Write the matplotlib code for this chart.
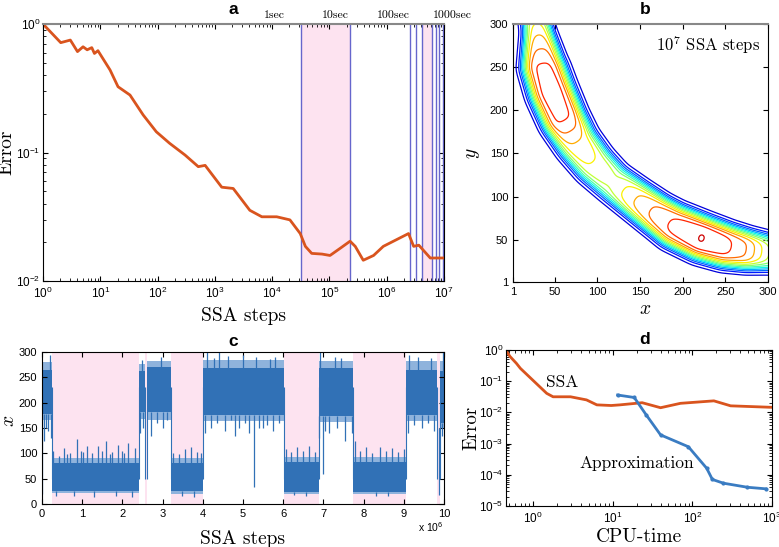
import numpy as np
import matplotlib
matplotlib.use('Agg')
import matplotlib.pyplot as plt
from matplotlib import rcParams
from matplotlib.colors import ListedColormap
from matplotlib.ticker import LogLocator, NullFormatter

rcParams['font.family'] = 'Liberation Sans'
rcParams['mathtext.fontset'] = 'custom'
rcParams['mathtext.rm'] = 'Liberation Sans'
rcParams['mathtext.it'] = 'Liberation Sans:italic'
rcParams['mathtext.bf'] = 'Liberation Sans:bold'
rcParams['xtick.direction'] = 'in'
rcParams['ytick.direction'] = 'in'
rcParams['xtick.top'] = True
rcParams['ytick.right'] = True
rcParams['xtick.labelsize'] = 8
rcParams['ytick.labelsize'] = 8
rcParams['axes.linewidth'] = 0.8

ORANGE = '#d9541e'
BLUE = '#3171b6'
LIGHTBLUE = '#8fb3dc'
PINK = '#fde3f0'
LINEBLUE = '#6666cc'
SERIF = 'cmr10'

# ---------------------------------------------------------------- data
# panel a : error vs SSA steps
a_steps = [1, 2.04, 3.0, 4.0, 5.0, 5.9, 7.1, 7.9, 9.1, 14.8, 20.4, 33, 56, 95,
           162, 302, 513, 676, 1318, 2089, 4074, 6607, 12020, 20420, 30900,
           38000, 49000, 74130, 1.023e5, 1.549e5, 2.29e5, 2.818e5, 3.89e5,
           5.89e5, 8.71e5, 2.4e6, 2.95e6, 3.63e6, 5.75e6, 1e7]
a_error = [1.0, 0.716, 0.75, 0.61, 0.665, 0.63, 0.655, 0.59, 0.62, 0.439,
           0.325, 0.28, 0.196, 0.145, 0.118, 0.0955, 0.0776, 0.0794, 0.0537,
           0.0525, 0.0355, 0.0316, 0.0316, 0.0299, 0.0234, 0.0186, 0.0164,
           0.0162, 0.0158, 0.018, 0.0204, 0.0186, 0.0145, 0.0158, 0.0186,
           0.0234, 0.0186, 0.019, 0.0151, 0.0151]
a_marks = [3.2e4, 2.3e5, 2.5e6, 3.24e6, 4.17e6, 6.17e6, 7.24e6, 8.3e6, 9.55e6, 1e7]
a_pink = [(3.2e4, 2.3e5), (4.17e6, 6.17e6)]
a_sec_labels = ['1sec', '10sec', '100sec', '1000sec']
a_sec_steps = [1.1e4, 1.25e5, 1.3e6, 1.4e7]

# panel b : ridge of the stationary distribution
b_line_x = [22, 30, 36, 46, 60, 76, 96, 118, 145, 170, 190, 222, 250, 275, 300, 345]
b_line_y = [335, 293, 252, 222, 190, 163, 138, 117, 97, 79, 66, 52, 43, 38, 35, 30]
b_peak = [0.45, 0.74, 0.94, 0.965, 0.94, 0.76, 0.68, 0.615, 0.77, 0.88, 0.945, 1.0,
          0.955, 0.85, 0.62, 0.2]
b_width = [14, 16, 24, 25, 24.5, 23, 22, 20.5, 21, 22, 24, 25, 24, 22, 20, 18]
b_levels = [0.05, 0.13, 0.21, 0.29, 0.37, 0.45, 0.53, 0.61, 0.69, 0.77, 0.85, 0.93, 0.9985]

# panel c : trajectory of x, segments between switches (units of 1e6 steps)
c_switch = [0.25, 2.42, 2.57, 2.62, 3.20, 4.00, 6.02, 6.88, 7.74, 9.05, 9.83, 9.90]
c_low = [False, True, False, True, False, True, False, True, False, True, False, True, False]
c_core_lo = [178, 25, 182, np.nan, 182, 26, 176, 23, 174, 23, 176, np.nan, 160]
c_core_hi = [265, 80, 262, np.nan, 270, 80, 268, 82, 268, 83, 265, np.nan, 262]
c_fringe_lo = [165, 21, 168, np.nan, 166, 20, 164, 20, 162, 19, 164, np.nan, 148]
c_fringe_hi = [280, 90, 276, np.nan, 282, 90, 284, 92, 283, 93, 282, np.nan, 282]
c_spike_x = [0.01, 0.05, 0.15, 0.22, 0.2, 0.1,
             0.27, 0.42, 0.55, 0.7, 0.86, 0.98, 1.11, 1.25, 1.4, 1.5, 1.6, 1.75, 1.9, 2.05, 2.15, 2.32,
             0.35, 0.8, 1.3, 1.85, 2.25, 0.63, 1.03, 1.68, 2.0,
             2.45, 2.52, 2.5, 2.7, 2.85, 3.0, 3.1, 2.95,
             3.25, 3.4, 3.55, 3.7, 3.85, 3.95, 3.48, 3.78,
             4.05, 4.2, 4.35, 4.55, 4.7, 4.9, 5.05, 5.27, 5.4, 5.6, 5.75, 5.9, 4.1, 4.4, 5.0, 5.8,
             4.8, 5.15, 5.5, 4.27, 4.62, 5.33, 5.68,
             6.08, 6.2, 6.35, 6.5, 6.65, 6.8, 6.28, 6.58,
             6.9, 6.98, 7.15, 7.35, 7.55, 7.7, 6.92, 7.3, 7.05, 7.45,
             7.78, 7.9, 8.05, 8.2, 8.4, 8.55, 8.7, 8.85, 9.0, 8.3, 8.62,
             9.1, 9.25, 9.45, 9.6, 9.75, 9.12, 9.35, 9.68,
             9.88, 9.95, 9.98]
c_spike_tip = [20, 125, 145, 130, 295, 150,
               104, 95, 110, 100, 128, 105, 114, 100, 114, 104, 124, 103, 117, 100, 121, 111,
               15, 16, 14, 15, 14, 98, 102, 99, 105,
               140, 150, 285, 135, 160, 150, 165, 290,
               100, 98, 108, 112, 103, 100, 15, 14,
               140, 150, 160, 145, 165, 150, 160, 33, 150, 155, 145, 160, 300, 300, 295, 290,
               135, 140, 150, 288, 292, 290, 286,
               108, 102, 112, 104, 115, 103, 17, 16,
               130, 60, 140, 150, 125, 140, 300, 290, 145, 288,
               125, 104, 112, 100, 113, 104, 110, 102, 108, 15, 16,
               140, 155, 150, 160, 145, 295, 290, 288,
               18, 135, 300]

# panel d : error vs CPU time
d_ssa_cpu = [0.457, 0.513, 0.617, 0.692, 1.48, 1.78, 2.95, 4.68, 6.31, 9.55,
             12.3, 23.4, 39.8, 70.8, 186, 302, 1000]
d_ssa_err = [0.955, 0.617, 0.372, 0.257, 0.0407, 0.0316, 0.0316, 0.0251, 0.0174,
             0.0166, 0.0174, 0.0204, 0.0141, 0.0195, 0.0234, 0.0162, 0.0145]
d_app_cpu = [11.5, 18.6, 26.3, 39.8, 89, 151, 178, 245, 490, 832]
d_app_err = [0.036, 0.030, 0.0083, 0.0019, 0.00079, 0.000162, 7.08e-5, 5.37e-5,
             3.98e-5, 3.55e-5]


def blur(field, sigma):
    # separable gaussian smoothing, sigma in grid cells
    r = int(3 * sigma)
    k = np.exp(-0.5 * (np.arange(-r, r + 1) / sigma) ** 2)
    k /= k.sum()
    field = np.apply_along_axis(lambda m: np.convolve(m, k, mode='same'), 0, field)
    field = np.apply_along_axis(lambda m: np.convolve(m, k, mode='same'), 1, field)
    return field


# ---------------------------------------------------------------- figure
fig = plt.figure(figsize=(7.79, 5.47), dpi=100)

# panel a
ax_a = fig.add_axes([0.0552, 0.4863, 0.5148, 0.4698])
for x0, x1 in a_pink:
    ax_a.axvspan(x0, x1, color=PINK, lw=0)
for xm in a_marks:
    ax_a.axvline(xm, color=LINEBLUE, lw=1.0)
ax_a.loglog(a_steps, a_error, color=ORANGE, lw=2)
ax_a.set_xlim(1, 1e7)
ax_a.set_ylim(1e-2, 1)
ax_a.xaxis.set_major_locator(LogLocator(base=10, numticks=20))
ax_a.xaxis.set_minor_locator(LogLocator(base=10, subs=np.arange(2, 10), numticks=100))
ax_a.xaxis.set_minor_formatter(NullFormatter())
ax_a.tick_params(labelsize=8.5)
ax_a.tick_params(axis='y', pad=2)
ax_a.spines['top'].set_color('#888888')
ax_a.spines['top'].set_linewidth(1.5)
ax_a.set_xlabel('SSA steps', fontfamily=SERIF, fontsize=14)
ax_a.set_ylabel('Error', fontfamily=SERIF, fontsize=14)
ax_a.xaxis.set_label_coords(0.5, -0.1)
ax_a.yaxis.set_label_coords(-0.068, 0.5)
for lab, xs in zip(a_sec_labels, a_sec_steps):
    ax_a.text(xs, 1.035, lab, transform=ax_a.get_xaxis_transform(), ha='center',
              va='center', fontfamily=SERIF, fontsize=8.5, clip_on=False)

# panel b : density along the ridge, steep fall-off across it
ax_b = fig.add_axes([0.6585, 0.4845, 0.3273, 0.4717])
gx = np.linspace(-40, 340, 500)
gy = np.linspace(-40, 340, 500)
X, Y = np.meshgrid(gx, gy)
lx = np.array(b_line_x, float)
ly = np.array(b_line_y, float)
seg_len = np.hypot(np.diff(lx), np.diff(ly))
arc = np.concatenate([[0], np.cumsum(seg_len)])
best_d = np.full(X.shape, np.inf)
best_s = np.zeros(X.shape)
for k in range(len(seg_len)):
    ex, ey = lx[k + 1] - lx[k], ly[k + 1] - ly[k]
    t = ((X - lx[k]) * ex + (Y - ly[k]) * ey) / seg_len[k] ** 2
    t = np.clip(t, 0, 1)
    d = np.hypot(X - lx[k] - t * ex, Y - ly[k] - t * ey)
    closer = d < best_d
    best_d[closer] = d[closer]
    best_s[closer] = arc[k] + t[closer] * seg_len[k]
ridge = np.interp(best_s, arc, b_peak)
width = np.interp(best_s, arc, b_width)
dens = ridge * np.exp(-(best_d / width) ** 5)
dens = blur(dens, 5.0)
dens /= dens.max()
jet_part = ListedColormap(plt.get_cmap('jet')(np.linspace(0.08, 0.93, 256)))
ax_b.contour(X, Y, dens, levels=b_levels, cmap=jet_part, linewidths=0.9)
ax_b.set_xlim(1, 300)
ax_b.set_ylim(1, 300)
ax_b.set_xticks([1, 50, 100, 150, 200, 250, 300])
ax_b.set_yticks([1, 50, 100, 150, 200, 250, 300])
ax_b.spines['top'].set_color('#888888')
ax_b.spines['top'].set_linewidth(1.5)
ax_b.set_xlabel('$x$', fontsize=14, math_fontfamily='cm')
ax_b.set_ylabel('$y$', fontsize=14, math_fontfamily='cm')
ax_b.xaxis.set_label_coords(0.518, -0.075)
ax_b.yaxis.set_label_coords(-0.12, 0.5)
ax_b.text(0.765, 0.92, r'$10^7$ SSA steps', transform=ax_b.transAxes, ha='center',
          va='center', fontfamily=SERIF, fontsize=12, math_fontfamily='cm')

# panel c
ax_c = fig.add_axes([0.0539, 0.0786, 0.5160, 0.2779])
bounds = [0] + c_switch + [10]
for i in range(len(c_low)):
    x0, x1 = bounds[i], bounds[i + 1]
    if c_low[i]:
        ax_c.axvspan(x0, x1, color=PINK, lw=0)
    if not np.isnan(c_core_lo[i]):
        ax_c.fill_between([x0, x1], c_fringe_lo[i], c_fringe_hi[i], color=LIGHTBLUE, lw=0)
        ax_c.fill_between([x0, x1], c_core_lo[i], c_core_hi[i], color=BLUE, lw=0)
for xs in c_switch:
    ax_c.vlines(xs, 50, 230, color=BLUE, lw=0.8)
for xs, tip in zip(c_spike_x, c_spike_tip):
    i = np.searchsorted(bounds, xs) - 1
    lo, hi = c_core_lo[i], c_core_hi[i]
    if np.isnan(lo):
        lo, hi = 150, 150
    base = hi if tip > hi else lo
    ax_c.vlines(xs, base, tip, color=BLUE, lw=0.9)
ax_c.set_xlim(0, 10)
ax_c.set_ylim(0, 300)
ax_c.set_xticks(range(11))
ax_c.set_yticks([0, 50, 100, 150, 200, 250, 300])
ax_c.set_xlabel('SSA steps', fontfamily=SERIF, fontsize=14)
ax_c.set_ylabel('$x$', fontsize=14, math_fontfamily='cm')
ax_c.xaxis.set_label_coords(0.5, -0.17)
ax_c.yaxis.set_label_coords(-0.06, 0.55)
ax_c.text(1.0, -0.105, r'x 10$^{6}$', transform=ax_c.transAxes, ha='right',
          va='top', fontsize=7.5)

# panel d
ax_d = fig.add_axes([0.6496, 0.075, 0.3415, 0.2852])
ax_d.loglog(d_ssa_cpu, d_ssa_err, color=ORANGE, lw=2)
ax_d.loglog(d_app_cpu, d_app_err, color='#3a7cc2', lw=2, marker='.', ms=4)
ax_d.set_xlim(0.457, 1000)
ax_d.set_ylim(1e-5, 1)
ax_d.yaxis.set_major_locator(LogLocator(base=10, numticks=10))
ax_d.yaxis.set_minor_formatter(NullFormatter())
ax_d.tick_params(labelsize=8.5)
ax_d.tick_params(axis='y', pad=2)
ax_d.set_xlabel('CPU-time', fontfamily=SERIF, fontsize=14)
ax_d.set_ylabel('Error', fontfamily=SERIF, fontsize=13.5)
ax_d.xaxis.set_label_coords(0.5, -0.14)
ax_d.yaxis.set_label_coords(-0.095, 0.5)
ax_d.text(0.21, 0.795, 'SSA', transform=ax_d.transAxes, ha='center', va='center',
          fontfamily=SERIF, fontsize=12.5)
ax_d.text(0.49, 0.276, 'Approximation', transform=ax_d.transAxes, ha='center',
          va='center', fontfamily=SERIF, fontsize=12.5)

# panel letters
for lab, px, py in [('a', 233, 9), ('b', 645, 9), ('c', 233, 342), ('d', 645, 340)]:
    fig.text(px / 779, 1 - py / 547, lab, ha='center', va='center',
             fontweight='bold', fontsize=12.5)

fig.savefig('out.png', dpi=100)
